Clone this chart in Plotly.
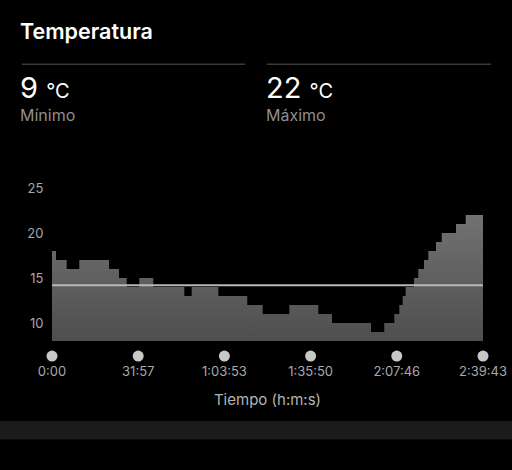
import plotly.graph_objects as go

# ---- data ----
time_s = [0, 89, 327, 607, 1267, 1490, 1661, 1941, 2252, 2942, 3106, 3698, 4342,
          4685, 5276, 5921, 6226, 7093, 7388, 7611, 7722, 7797, 7864, 8048, 8144,
          8271, 8367, 8538, 8665, 8983, 9198, 9583]
temp_c = [18, 17, 16, 17, 16, 15, 14, 15, 14, 13, 14, 13, 12, 11, 12, 11, 10, 9,
          10, 11, 12, 13, 14, 15, 16, 17, 18, 19, 20, 21, 22, 22]
mean_temp = 14.2
min_temp = 9
max_temp = 22
x_tick_seconds = [0, 1917, 3833, 5750, 7666, 9583]
x_tick_labels = ["0:00", "31:57", "1:03:53", "1:35:50", "2:07:46", "2:39:43"]
y_ticks = [10, 15, 20, 25]
area_base = 8
dot_level = 6.33

# ---- layout geometry (pixels) ----
W, H = 512, 470
L, R, T, B = 52, 29, 170, 108
PW, PH = W - L - R, H - T - B
Y_TOP = 27
Y_BOTTOM = Y_TOP - PH / 9.0


def px_x(px):
    return (px - L) / PW


def px_y(py):
    return (H - B - py) / PH


FONT = "Inter"

fig = go.Figure()

# baseline for the area fill
fig.add_trace(go.Scatter(
    x=[time_s[0], time_s[-1]], y=[area_base, area_base], mode="lines",
    line=dict(width=0, color="rgba(0,0,0,0)"), hoverinfo="skip", showlegend=False,
))

fig.add_trace(go.Scatter(
    x=time_s, y=temp_c, mode="lines", line=dict(shape="hv", width=0, color="#6a6a6a"),
    fill="tonexty",
    fillgradient=dict(type="vertical", colorscale=[[0, "#4e4e4e"], [1, "#727272"]],
                      start=area_base, stop=max_temp),
    hoverinfo="skip", showlegend=False,
))

# mean line
fig.add_trace(go.Scatter(
    x=[time_s[0], time_s[-1]], y=[mean_temp, mean_temp], mode="lines",
    line=dict(color="#b8b8b8", width=2), hoverinfo="skip", showlegend=False,
))

# tick dots below the area
fig.add_trace(go.Scatter(
    x=x_tick_seconds, y=[dot_level] * len(x_tick_seconds), mode="markers",
    marker=dict(size=11, color="#c8c8c8"), cliponaxis=False,
    hoverinfo="skip", showlegend=False,
))

shapes = [
    dict(type="line", xref="paper", yref="paper", x0=px_x(22), x1=px_x(245),
         y0=px_y(64.3), y1=px_y(64.3), line=dict(color="#3a3a3a", width=1.5)),
    dict(type="line", xref="paper", yref="paper", x0=px_x(267), x1=px_x(491),
         y0=px_y(64.3), y1=px_y(64.3), line=dict(color="#3a3a3a", width=1.5)),
    dict(type="rect", xref="paper", yref="paper", x0=px_x(0), x1=px_x(W),
         y0=px_y(439.5), y1=px_y(421), fillcolor="#1b1b1b", line=dict(width=0),
         layer="below"),
]

annotations = [
    dict(text="Temperatura", x=px_x(18), y=px_y(31), xref="paper", yref="paper",
         xanchor="left", yanchor="middle", showarrow=False,
         font=dict(family=FONT, size=21.5, color="#ffffff", weight=600)),
    dict(text=f"{min_temp} <span style='font-size:20px'>°C</span>", x=px_x(18),
         y=px_y(87.5), xref="paper", yref="paper", xanchor="left", yanchor="middle",
         showarrow=False, font=dict(family=FONT, size=29, color="#ffffff")),
    dict(text=f"{max_temp} <span style='font-size:20px'>°C</span>", x=px_x(264),
         y=px_y(87.5), xref="paper", yref="paper", xanchor="left", yanchor="middle",
         showarrow=False, font=dict(family=FONT, size=29, color="#ffffff")),
    dict(text="Mínimo", x=px_x(18), y=px_y(115.5), xref="paper", yref="paper",
         xanchor="left", yanchor="middle", showarrow=False,
         font=dict(family=FONT, size=16, color="#8e8e8e")),
    dict(text="Máximo", x=px_x(264), y=px_y(115.5), xref="paper", yref="paper",
         xanchor="left", yanchor="middle", showarrow=False,
         font=dict(family=FONT, size=16, color="#8e8e8e")),
]

fig.update_layout(
    width=W, height=H,
    margin=dict(l=L, r=R, t=T, b=B, pad=0, autoexpand=False),
    paper_bgcolor="#000000", plot_bgcolor="#000000",
    shapes=shapes, annotations=annotations,
    xaxis=dict(
        range=[0, 9583], tickmode="array", tickvals=x_tick_seconds,
        ticktext=x_tick_labels, showgrid=False, zeroline=False, showline=False,
        ticks="", automargin=False,
        tickfont=dict(family=FONT, size=13, color="#a8a8a8"),
        title=dict(text="Tiempo (h:m:s)", standoff=16,
                   font=dict(family=FONT, size=15, color="#b4b4b4")),
        fixedrange=True,
    ),
    yaxis=dict(
        range=[Y_BOTTOM, Y_TOP], tickmode="array", tickvals=y_ticks,
        showgrid=False, zeroline=False, showline=False, automargin=False,
        ticks="outside", ticklen=5, tickcolor="rgba(0,0,0,0)",
        tickfont=dict(family=FONT, size=13, color="#a8a8a8"),
        fixedrange=True,
    ),
)

fig.write_html(
    "out.html",
    config={"displayModeBar": False},
    post_script="document.body.style.margin='0';document.body.style.background='#000';",
)
